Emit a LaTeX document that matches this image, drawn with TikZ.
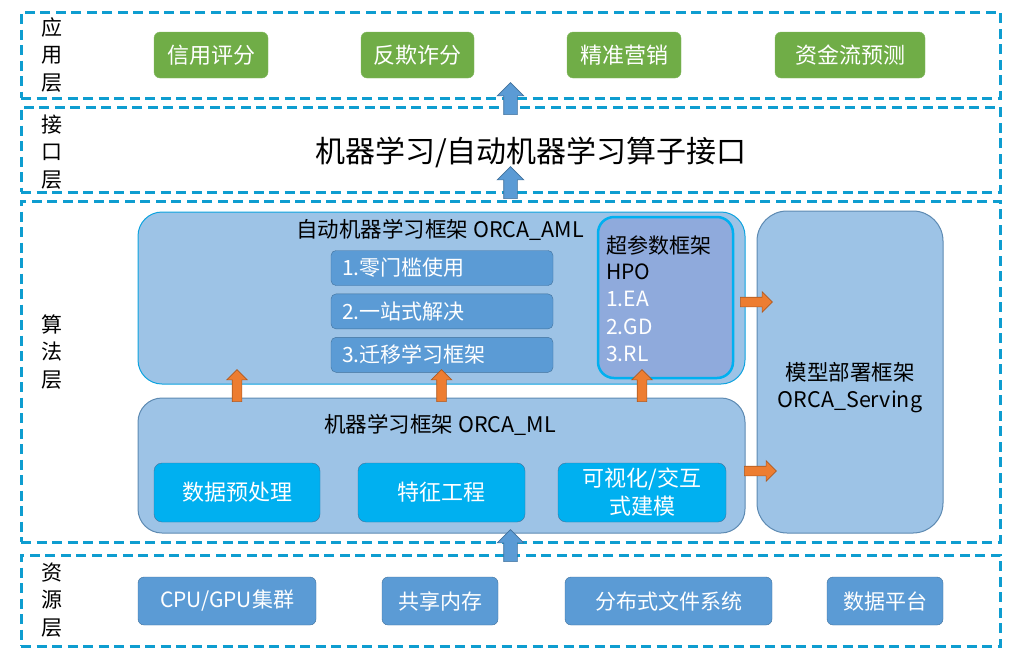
\documentclass[tikz,border=0pt]{standalone}
\usepackage{fontspec}
\setmainfont{Noto Sans CJK SC}
\usetikzlibrary{
	positioning		% Allows below=8pt of x style positioning
	, shapes.arrows	% Allows the block arrows
}
\definecolor{layerblue}{RGB}{14,157,208}
\definecolor{paleblue}{RGB}{157,195,230}
\definecolor{midblue}{RGB}{91,155,213}
\definecolor{darkblue}{RGB}{65,113,156}
\definecolor{skyblue}{RGB}{0,176,240}
\definecolor{hpoblue}{RGB}{143,170,220}
\definecolor{appgreen}{RGB}{112,173,71}
\definecolor{arroworange}{RGB}{237,125,49}
\definecolor{orangeedge}{RGB}{174,90,33}

\begin{document}
\begin{tikzpicture}[x=1pt, y=-1pt
		, layer/.style={draw=layerblue, line width=3pt, dash pattern=on 10pt off 5.5pt, minimum width=979pt, inner sep=0pt}
		, layerlabel/.style={align=center, font=\fontsize{21}{27.5}\selectfont}
		, appbox/.style={fill=appgreen, draw=appgreen!85!white, rounded corners=6pt, text=white, minimum height=46pt, font=\fontsize{22}{26}\selectfont}
		, framebox/.style={fill=paleblue, rounded corners=24pt, line width=1pt}
		, itembox/.style={fill=midblue, draw=darkblue, rounded corners=5pt, text=white, minimum width=222pt, minimum height=35pt, text width=200pt, align=left, font=\fontsize{21}{25}\selectfont}
		, stepbox/.style={fill=skyblue, draw=darkblue, rounded corners=8pt, text=white, minimum height=59pt, align=center, font=\fontsize{22}{28}\selectfont}
		, resbox/.style={fill=midblue, draw=darkblue, rounded corners=6pt, text=white, minimum height=48pt, font=\fontsize{21}{25}\selectfont}
		, title/.style={font=\fontsize{21.5}{27}\selectfont}
		, bluearrow/.style={single arrow, fill=midblue, draw=darkblue, line width=0.6pt, inner sep=6.5pt, minimum height=32pt, single arrow head extend=6.5pt, shape border rotate=90}
		, orangearrow/.style={single arrow, fill=arroworange, draw=orangeedge, line width=0.6pt, inner sep=4.5pt, minimum height=32pt, single arrow head extend=5.5pt}]

		\useasboundingbox (0,0) rectangle (1017,657);

		%%% Layers
		\node[layer, minimum height=86pt] (applayer) at (510.5,55) {};
		\node[layer, minimum height=85pt] (apilayer) at (510.5,149.5) {};
		\node[layer, minimum height=341pt] (algolayer) at (510.5,371.5) {};
		\node[layer, minimum height=91pt] (reslayer) at (510.5,600.5) {};

		%% Layer names
		\node[layerlabel] (applabel) at (52,55) {应\\用\\层};
		\node[layerlabel] (apilabel) at (52,152) {接\\口\\层};
		\node[layerlabel] (algolabel) at (52,352) {算\\法\\层};
		\node[layerlabel] (reslabel) at (52,600) {资\\源\\层};

		%%% Application layer
		\foreach [count=\i] \app/\cx/\w in {信用评分/211/114, 反欺诈分/417.5/113, 精准营销/624/114, 资金流预测/850/150} {
			\node[appbox, minimum width=\w pt] (app\i) at (\cx,55) {\app};
		};

		%%% Interface layer
		\node[font=\fontsize{30}{34}\selectfont] (api) at (531,152) {机器学习/自动机器学习算子接口};

		%%% Algorithm layer
		%% AutoML framework
		\node[framebox, draw=skyblue!80!darkblue, minimum width=607pt, minimum height=172pt] (aml) at (441.5,298) {};
		\node[title] (amltitle) at (440,230) {自动机器学习框架 ORCA\_AML};
		\node[itembox] (item1) at (442,268) {1.零门槛使用};
		\node[itembox, below=8pt of item1] (item2) {2.一站式解决};
		\node[itembox, below=8pt of item2] (item3) {3.迁移学习框架};

		%% Hyper parameter framework
		\node[fill=hpoblue, draw=skyblue, line width=2.5pt, rounded corners=16pt, minimum width=135pt, minimum height=161pt] (hpo) at (665.5,297.5) {};
		\foreach [count=\i] \hpotext/\col in {超参数框架/black, HPO/black, 1.EA/white, 2.GD/white, 3.RL/white} {
			\node[anchor=west, text=\col, inner sep=0pt, font=\fontsize{21}{25}\selectfont] (hpotext\i) at (606,{245+27.2*(\i-1)}) {\hpotext};
		};

		%% ML framework
		\node[framebox, draw=darkblue!70!paleblue, minimum width=607pt, minimum height=135pt] (ml) at (441.5,465.5) {};
		\node[title] (mltitle) at (440,425) {机器学习框架 ORCA\_ML};
		\node[stepbox, minimum width=166pt] (ml1) at (237,492.5) {数据预处理};
		\node[stepbox, minimum width=167pt] (ml2) at (441.5,492.5) {特征工程};
		\node[stepbox, minimum width=168pt] (ml3) at (642,492.5) {可视化/交互\\式建模};

		%% Serving framework
		\node[framebox, draw=darkblue!70!paleblue, minimum width=186pt, minimum height=322pt, rounded corners=30pt] (serving) at (850,372) {};
		\node[title, align=center] (servingtext) at (850,388) {模型部署框架\\ORCA\_Serving};

		%%% Resource layer
		\foreach [count=\i] \res/\cx/\w in {{CPU/GPU集群}/227/178, 共享内存/440/116, 分布式文件系统/668.5/207, 数据平台/885/116} {
			\node[resbox, minimum width=\w pt] (res\i) at (\cx,601) {\res};
		};

		%%% Arrows
		%% Between layers
		\node[bluearrow] (apiup) at (applayer.south |- 0,102) {};
		\node[bluearrow] (algoup) at (apilayer.south |- 0,186) {};
		\node[bluearrow] (resup) at (reslayer.north |- 0,549) {};

		%% ML to AutoML
		\foreach \k in {1,2,3} {
			\node[orangearrow, shape border rotate=90] (mlup\k) at (ml\k.north |- 0,388) {};
		};

		%% Into serving
		\node[orangearrow] (amlout) at (754,302) {};
		\node[orangearrow] (mlout) at (758,471) {};
	\end{tikzpicture}
\end{document}
